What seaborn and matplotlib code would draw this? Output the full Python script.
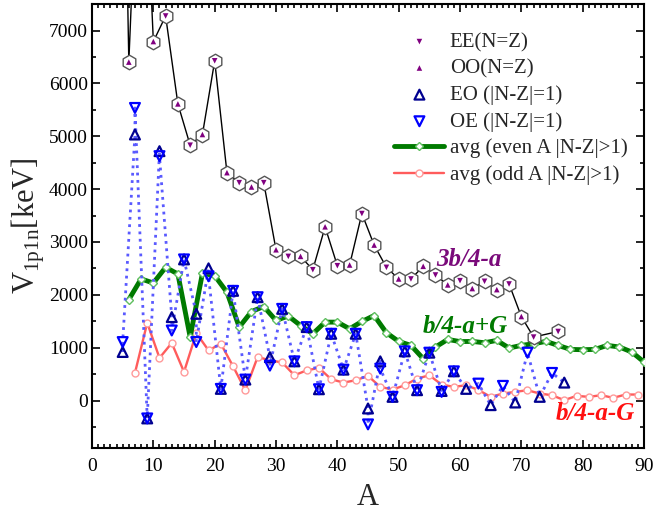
import numpy as np
import pandas as pd
import matplotlib
matplotlib.use('Agg')
import matplotlib.pyplot as plt
import seaborn as sns
from matplotlib.ticker import MultipleLocator

# N=Z nuclei (EE: down triangle, OO: up triangle); A=4 and A=8 lie far above the frame
ee_A = [4, 8, 12, 16, 20, 24, 28, 32, 36, 40, 44, 48, 52, 56, 60, 64, 68, 72, 76]
ee_V = [19000, 12000, 7276, 4831, 6428, 4122, 4122, 2727, 2475, 2551, 3538, 2520,
        2300, 2375, 2268, 2256, 2205, 1200, 1306]
oo_A = [6, 10, 14, 18, 22, 26, 30, 34, 38, 42, 46, 50, 54, 58, 62, 66, 70]
oo_V = [6403, 6792, 5612, 5033, 4311, 4040, 2852, 2727, 3286, 2564, 2941, 2300,
        2539, 2187, 2118, 2098, 1589]

# |N-Z|=1 nuclei
eo_A = [5, 7, 9, 11, 13, 15, 17, 19, 21, 23, 25, 27, 29, 31, 33, 35, 37, 39, 41, 43,
        45, 47, 49, 51, 53, 55, 57, 59, 61, 65, 69, 73, 77]
eo_V = [918, 5033, -339, 4718, 1578, 2670, 1640, 2501, 220, 2075, 396, 1955, 820, 1734,
        741, 1389, 213, 1263, 584, 1263, -151, 741, 69, 930, 195, 905, 180, 552, 220,
        -88, -38, 69, 339]
oe_A = [5, 7, 9, 11, 13, 15, 17, 19, 21, 23, 25, 27, 29, 31, 33, 35, 37, 39, 41, 43,
        45, 47, 49, 51, 53, 55, 57, 59, 63, 67, 71, 75]
oe_V = [1106, 5536, -339, 4624, 1325, 2670, 1106, 2350, 220, 2075, 396, 1955, 660, 1734,
        741, 1389, 213, 1263, 584, 1263, -452, 603, 69, 930, 195, 905, 163, 552, 320,
        277, 905, 522]

# averages for |N-Z|>1
even_A = list(range(6, 91, 2))
even_V = [1910, 2300, 2224, 2520, 2394, 1201, 2407, 2362, 2049, 1389, 1683, 1778, 1514,
          1600, 1419, 1263, 1483, 1483, 1357, 1495, 1608, 1282, 1118, 1043, 792, 1012,
          1156, 1115, 1118, 1093, 1137, 993, 1043, 1074, 1118, 1043, 967, 961, 967, 1043,
          1012, 918, 729]
odd_A = list(range(7, 90, 2))
odd_V = [522, 1470, 805, 1088, 541, 1276, 948, 1074, 647, 194, 824, 760, 720, 477, 571,
         616, 402, 339, 383, 466, 258, 207, 289, 415, 477, 302, 258, 289, 200, 69, 132,
         164, 194, 132, 100, 6, 88, 69, 100, 51, 113, 113]

sns.set_theme(style='ticks')
plt.rcParams['font.family'] = ['Liberation Serif', 'DejaVu Serif']
plt.rcParams['mathtext.fontset'] = 'custom'
plt.rcParams['mathtext.rm'] = 'Liberation Serif'

nz = pd.concat([pd.DataFrame({'A': ee_A, 'V': ee_V}),
                pd.DataFrame({'A': oo_A, 'V': oo_V})]).sort_values('A')
blue = pd.concat([pd.DataFrame({'A': eo_A, 'V': eo_V, 's': 0}),
                  pd.DataFrame({'A': oe_A, 'V': oe_V, 's': 1})]).sort_values(['A', 's'])

fig = plt.figure(figsize=(6.55, 5.18), dpi=100)
ax = fig.add_axes([0.1405, 0.135, 0.8427, 0.857])

# averaged lines
sns.lineplot(x=odd_A, y=odd_V, color='#ff5c5c', linewidth=1.7, marker='o', markersize=5,
             markerfacecolor='white', markeredgecolor='#ff9a9a', markeredgewidth=1,
             label='avg (odd A |N-Z|>1)', ax=ax, zorder=2)
sns.lineplot(x=even_A, y=even_V, color='#007a00', linewidth=3.5, marker='D', markersize=4.5,
             markerfacecolor='white', markeredgecolor='#5fbf5f', markeredgewidth=1,
             label='avg (even A |N-Z|>1)', ax=ax, zorder=3)

# |N-Z|=1 dotted line and markers
sns.lineplot(data=blue, x='A', y='V', sort=False, estimator=None, color='#5a5aff',
             linestyle=':', linewidth=2, ax=ax, zorder=4)
sns.scatterplot(x=eo_A, y=eo_V, marker='^', s=50, facecolors='none', edgecolor='#000090',
                linewidth=1.6, label='EO (|N-Z|=1)', ax=ax, zorder=5)
sns.scatterplot(x=oe_A, y=oe_V, marker='v', s=50, facecolors='none', edgecolor='#0000ff',
                linewidth=1.6, label='OE (|N-Z|=1)', ax=ax, zorder=5)

# N=Z line with hexagons
sns.lineplot(data=nz, x='A', y='V', sort=False, estimator=None, color='black',
             linewidth=1, ax=ax, zorder=6)
sns.scatterplot(data=nz, x='A', y='V', marker='h', s=110, color='white', edgecolor='#555555',
                linewidth=1, ax=ax, zorder=7)
sns.scatterplot(x=ee_A, y=ee_V, marker='v', s=16, color='#800080', edgecolor='none',
                label='EE(N=Z)', ax=ax, zorder=8)
sns.scatterplot(x=oo_A, y=oo_V, marker='^', s=16, color='#800080', edgecolor='none',
                label='OO(N=Z)', ax=ax, zorder=8)

ax.set_xlim(0, 90)
ax.set_ylim(-900, 7500)
ax.xaxis.set_major_locator(MultipleLocator(10))
ax.xaxis.set_minor_locator(MultipleLocator(1))
ax.yaxis.set_major_locator(MultipleLocator(1000))
ax.yaxis.set_minor_locator(MultipleLocator(500))
ax.tick_params(which='both', direction='in', top=True, right=True, labelsize=14,
               width=1.2, colors='black')
ax.tick_params(axis='x', which='both', pad=7)
ax.tick_params(axis='y', which='both', pad=3)
ax.tick_params(which='major', length=6)
ax.tick_params(which='minor', length=3)
for sp in ax.spines.values():
    sp.set_linewidth(1.5)
    sp.set_color('black')

ax.set_xlabel('A', fontsize=22, labelpad=6)
ax.set_ylabel(r'V$_{\mathrm{1p1n}}$[keV]', fontsize=22, labelpad=1)

ax.text(61.5, 2660, '3b/4-a', color='#7a0a7a', fontsize=18, fontweight='bold',
        fontstyle='italic', ha='center', va='center', zorder=9)
ax.text(60.9, 1400, 'b/4-a+G', color='#007a00', fontsize=18, fontweight='bold',
        fontstyle='italic', ha='center', va='center', zorder=9)
ax.text(82, -255, 'b/4-a-G', color='#ff1010', fontsize=18, fontweight='bold',
        fontstyle='italic', ha='center', va='center', zorder=9)

order = ['EE(N=Z)', 'OO(N=Z)', 'EO (|N-Z|=1)', 'OE (|N-Z|=1)',
         'avg (even A |N-Z|>1)', 'avg (odd A |N-Z|>1)']
handles, labels = ax.get_legend_handles_labels()
hmap = dict(zip(labels, handles))
ax.legend([hmap[k] for k in order], order, loc='upper right', bbox_to_anchor=(0.985, 0.955),
          frameon=False, fontsize=15, handlelength=2.4, handletextpad=0.25,
          labelspacing=0.33, borderaxespad=0)

fig.savefig('out.png', dpi=100)
